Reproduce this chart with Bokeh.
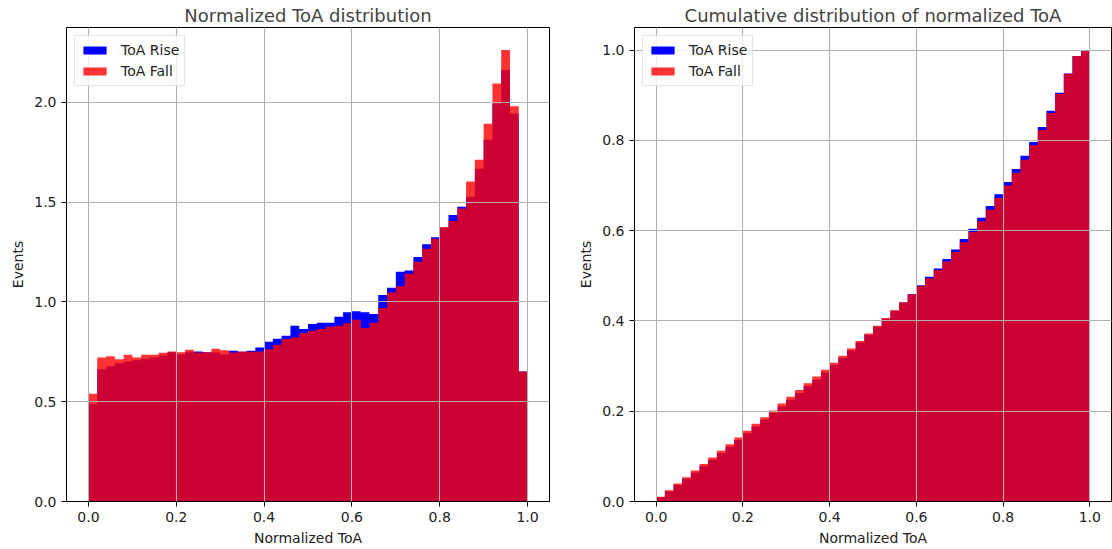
import numpy as np
from bokeh.plotting import figure
from bokeh.layouts import row
from bokeh.models import FixedTicker, PrintfTickFormatter, Range1d
from bokeh.embed import file_html
from bokeh.resources import INLINE

# ---- data (normalized histogram densities, 50 bins on [0, 1]) ----
n_bins = 50
toa_rise = [0.490, 0.663, 0.678, 0.693, 0.701, 0.708, 0.715, 0.722, 0.730, 0.748,
            0.738, 0.748, 0.752, 0.748, 0.747, 0.738, 0.755, 0.750, 0.755, 0.772,
            0.800, 0.816, 0.831, 0.881, 0.864, 0.889, 0.896, 0.896, 0.926, 0.948,
            0.953, 0.948, 0.940, 1.035, 1.071, 1.151, 1.158, 1.225, 1.289, 1.324,
            1.370, 1.435, 1.477, 1.527, 1.667, 1.813, 1.994, 2.162, 1.944, 0.651]
toa_fall = [0.540, 0.722, 0.728, 0.713, 0.735, 0.722, 0.735, 0.735, 0.745, 0.752,
            0.748, 0.760, 0.746, 0.748, 0.765, 0.758, 0.747, 0.752, 0.750, 0.752,
            0.763, 0.785, 0.814, 0.822, 0.844, 0.856, 0.864, 0.876, 0.881, 0.893,
            0.911, 0.869, 0.896, 0.970, 1.047, 1.078, 1.141, 1.201, 1.267, 1.316,
            1.376, 1.406, 1.468, 1.603, 1.712, 1.893, 2.095, 2.262, 1.980, 0.651]
x_ticks = [0.0, 0.2, 0.4, 0.6, 0.8, 1.0]
y_ticks_left = [0.0, 0.5, 1.0, 1.5, 2.0]
y_ticks_right = [0.0, 0.2, 0.4, 0.6, 0.8, 1.0]
labels = ["ToA Rise", "ToA Fall"]

edges = np.linspace(0.0, 1.0, n_bins + 1)
rise = np.array(toa_rise)
fall = np.array(toa_fall)
cum_rise = np.cumsum(rise) / rise.sum()
cum_fall = np.cumsum(fall) / fall.sum()


def step_vals(v):
    # value held from each left edge until the next edge
    return np.append(v, v[-1])


FONT = "DejaVu Sans"


def style(p, yticks):
    p.title.text_font = FONT
    p.title.text_font_size = "18px"
    p.title.text_font_style = "normal"
    p.title.align = "center"
    p.title.standoff = 4
    p.outline_line_color = "black"
    p.outline_line_width = 1
    for ax in (p.xaxis, p.yaxis):
        ax.axis_line_color = "black"
        ax.major_tick_line_color = "black"
        ax.major_tick_out = 5
        ax.major_tick_in = 0
        ax.minor_tick_line_color = None
        ax.major_label_text_font = FONT
        ax.major_label_text_font_size = "14px"
        ax.major_label_text_color = "#222222"
        ax.axis_label_text_font = FONT
        ax.axis_label_text_font_size = "14px"
        ax.axis_label_text_font_style = "normal"
        ax.axis_label_text_color = "#222222"
        ax.major_label_standoff = 5
        ax.axis_label_standoff = 5
    p.xaxis.ticker = FixedTicker(ticks=x_ticks)
    p.yaxis.ticker = FixedTicker(ticks=yticks)
    p.xaxis.formatter = PrintfTickFormatter(format="%.1f")
    p.yaxis.formatter = PrintfTickFormatter(format="%.1f")
    for g in (p.xgrid, p.ygrid):
        g.grid_line_color = "#b0b0b0"
        g.grid_line_width = 1.1
        g.level = "guide"
    p.xgrid.ticker = FixedTicker(ticks=x_ticks)
    p.ygrid.ticker = FixedTicker(ticks=yticks)
    p.xaxis.axis_label = "Normalized ToA"
    p.yaxis.axis_label = "Events"
    lg = p.legend[0]
    lg.location = "top_left"
    lg.margin = 8
    lg.padding = 5
    lg.spacing = 3
    lg.glyph_width = 29
    lg.glyph_height = 10
    lg.label_height = 18
    lg.label_standoff = 12
    lg.label_text_font = FONT
    lg.label_text_font_size = "14px"
    lg.label_text_color = "#222222"
    lg.border_line_color = "#cccccc"
    lg.background_fill_alpha = 0.8


H = 548
p1 = figure(width=575, height=H, output_backend="svg", toolbar_location=None,
            title="Normalized ToA distribution",
            x_range=Range1d(-0.05, 1.05), y_range=Range1d(0, max(toa_fall) * 1.05),
            min_border_left=66, min_border_right=26, min_border_top=0, min_border_bottom=30)
p1.varea_step(x=edges, y1=0, y2=step_vals(rise), step_mode="after",
              fill_color="#0000ff", fill_alpha=1.0, legend_label=labels[0])
p1.varea_step(x=edges, y1=0, y2=step_vals(fall), step_mode="after",
              fill_color="#ff0000", fill_alpha=0.8, legend_label=labels[1])
style(p1, y_ticks_left)

p2 = figure(width=537, height=H, output_backend="svg", toolbar_location=None,
            title="Cumulative distribution of normalized ToA",
            x_range=Range1d(-0.05, 1.05), y_range=Range1d(0, 1.05),
            min_border_left=55, min_border_right=1, min_border_top=0, min_border_bottom=30)
p2.varea_step(x=edges, y1=0, y2=step_vals(cum_rise), step_mode="after",
              fill_color="#0000ff", fill_alpha=1.0, legend_label=labels[0])
p2.varea_step(x=edges, y1=0, y2=step_vals(cum_fall), step_mode="after",
              fill_color="#ff0000", fill_alpha=0.8, legend_label=labels[1])
style(p2, y_ticks_right)

layout = row(p1, p2)
open("out.html", "w").write(file_html(layout, INLINE))
